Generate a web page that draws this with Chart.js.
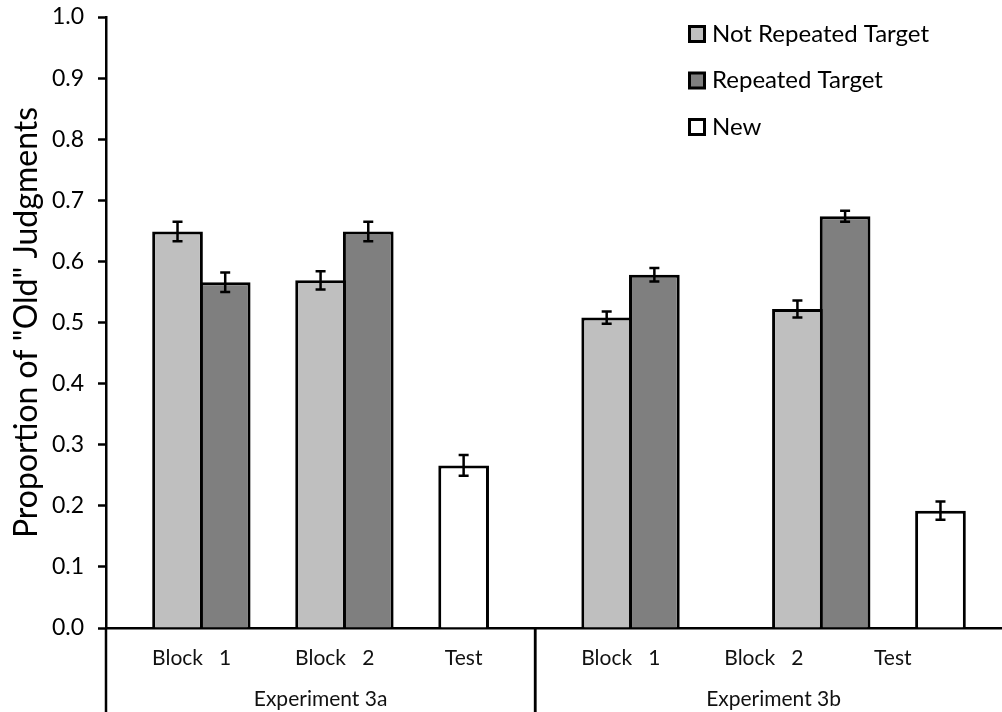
<!DOCTYPE html>
<html>
<head>
<meta charset="utf-8">
<title>Proportion of "Old" Judgments</title>
<script src="https://cdn.jsdelivr.net/npm/chart.js@4"></script>
<style>
  html, body { margin: 0; padding: 0; background: #fff; overflow: hidden; }
  #wrap { width: 1014px; height: 712px; position: relative; }
</style>
</head>
<body>
<div id="wrap"><canvas id="chart"></canvas></div>
<script>
// ---------- Data ---------- //
// one entry per slot on the x axis; empty slots keep the spacing between bars
const slotLabels = ['', 'Block', '1', '', 'Block', '2', '', 'Test', '', '',
                    'Block', '1', '', 'Block', '2', '', 'Test', '', ''];
const groupLabels = ['Experiment 3a', 'Experiment 3b'];
const groupSlots = [9, 10];

const notRepeated    = [null, 0.649, null, null, 0.569, null, null, null, null, null,
                        0.508, null, null, null, 0.522, null, null, null, null];
const notRepeatedErr = [null, 0.016, null, null, 0.015, null, null, null, null, null,
                        0.010, null, null, null, 0.014, null, null, null, null];
const repeated       = [null, null, 0.566, null, null, 0.649, null, null, null, null,
                        null, 0.578, null, null, null, 0.674, null, null, null];
const repeatedErr    = [null, null, 0.016, null, null, 0.016, null, null, null, null,
                        null, 0.011, null, null, null, 0.009, null, null, null];
const newItems       = [null, null, null, null, null, null, null, 0.266, null, null,
                        null, null, null, null, null, null, null, 0.192, null];
const newItemsErr    = [null, null, null, null, null, null, null, 0.017, null, null,
                        null, null, null, null, null, null, null, 0.015, null];

const FONT = 'Lato, "Open Sans", sans-serif';

// ---------- Plugins ---------- //
const errorBars = {
  id: 'errorBars',
  afterDatasetsDraw(chart) {
    const { ctx, scales: { y } } = chart;
    ctx.save();
    ctx.strokeStyle = '#000';
    ctx.lineWidth = 2.5;
    chart.data.datasets.forEach((ds, i) => {
      const meta = chart.getDatasetMeta(i);
      ds.data.forEach((v, j) => {
        if (v == null) return;
        const e = ds.errors[j];
        const x = meta.data[j].x;
        const yHi = y.getPixelForValue(v + e);
        const yLo = y.getPixelForValue(v - e);
        ctx.beginPath();
        ctx.moveTo(x, yHi); ctx.lineTo(x, yLo);
        ctx.moveTo(x - 5, yHi); ctx.lineTo(x + 5, yHi);
        ctx.moveTo(x - 5, yLo); ctx.lineTo(x + 5, yLo);
        ctx.stroke();
      });
    });
    ctx.restore();
  }
};

// second row of category labels with divider lines
const groupAxis = {
  id: 'groupAxis',
  afterDraw(chart) {
    const { ctx, chartArea, scales: { x } } = chart;
    const slot = x.getPixelForValue(1) - x.getPixelForValue(0);
    const edge = i => x.getPixelForValue(i) - slot / 2;
    ctx.save();
    ctx.strokeStyle = '#000';
    ctx.lineWidth = 2.5;
    ctx.fillStyle = '#111';
    ctx.font = '21px ' + FONT;
    ctx.textAlign = 'center';
    ctx.textBaseline = 'middle';
    let start = 0;
    groupLabels.forEach((label, g) => {
      const end = start + groupSlots[g];
      const x0 = edge(start), x1 = edge(end);
      ctx.beginPath();
      ctx.moveTo(x0, chartArea.bottom); ctx.lineTo(x0, chart.height);
      ctx.moveTo(x1, chartArea.bottom); ctx.lineTo(x1, chart.height);
      ctx.stroke();
      ctx.fillText(label, (x0 + x1) / 2, 699);
      start = end;
    });
    ctx.restore();
  }
};

const legendBox = {
  id: 'legendBox',
  afterDraw(chart) {
    const { ctx } = chart;
    ctx.save();
    ctx.font = '24px ' + FONT;
    ctx.textBaseline = 'middle';
    ctx.textAlign = 'left';
    chart.data.datasets.forEach((ds, i) => {
      const cy = 34 + i * 46.5;
      ctx.fillStyle = ds.backgroundColor;
      ctx.fillRect(689.5, cy - 7.5, 15, 15);
      ctx.strokeStyle = '#000';
      ctx.lineWidth = 3;
      ctx.strokeRect(689.5, cy - 7.5, 15, 15);
      ctx.fillStyle = '#000';
      ctx.fillText(ds.label, 712, cy);
    });
    ctx.restore();
  }
};

// ---------- Chart ---------- //
const ctx = document.getElementById('chart').getContext('2d');
new Chart(ctx, {
  type: 'bar',
  data: {
    labels: slotLabels,
    datasets: [
      { label: 'Not Repeated Target', data: notRepeated, errors: notRepeatedErr, backgroundColor: '#bfbfbf' },
      { label: 'Repeated Target', data: repeated, errors: repeatedErr, backgroundColor: '#7f7f7f' },
      { label: 'New', data: newItems, errors: newItemsErr, backgroundColor: '#ffffff' }
    ]
  },
  options: {
    responsive: true,
    maintainAspectRatio: false,
    animation: false,
    layout: { padding: { top: 17, right: 2 } },
    datasets: {
      bar: {
        grouped: false,
        categoryPercentage: 1,
        barPercentage: 1.063,
        borderColor: '#000',
        borderWidth: { top: 3, left: 3, right: 3, bottom: 0 },
        borderSkipped: 'start'
      }
    },
    plugins: {
      legend: { display: false },
      tooltip: { enabled: false }
    },
    scales: {
      x: {
        z: 1,
        grid: { display: false, drawTicks: false, tickLength: 0 },
        border: { color: '#000', width: 2.5 },
        ticks: {
          autoSkip: false,
          maxRotation: 0,
          padding: 18,
          color: '#111',
          font: { family: FONT, size: 21 }
        },
        afterFit: s => { s.height = 84; s.paddingLeft = 0; s.paddingRight = 0; }
      },
      y: {
        z: 1,
        min: 0,
        max: 1,
        ticks: {
          stepSize: 0.1,
          callback: v => v.toFixed(1),
          padding: 14,
          color: '#000',
          font: { family: FONT, size: 23 }
        },
        grid: { drawOnChartArea: false, tickLength: 8, tickWidth: 2.5, tickColor: '#000' },
        border: { color: '#000', width: 2.5 },
        title: {
          display: true,
          text: 'Proportion of "Old" Judgments',
          color: '#000',
          padding: { top: 7 },
          font: { family: FONT, size: 32 }
        },
        afterFit: s => { s.width = 106; s.paddingTop = 0; s.paddingBottom = 0; }
      }
    }
  },
  plugins: [errorBars, groupAxis, legendBox]
});
</script>
</body>
</html>
